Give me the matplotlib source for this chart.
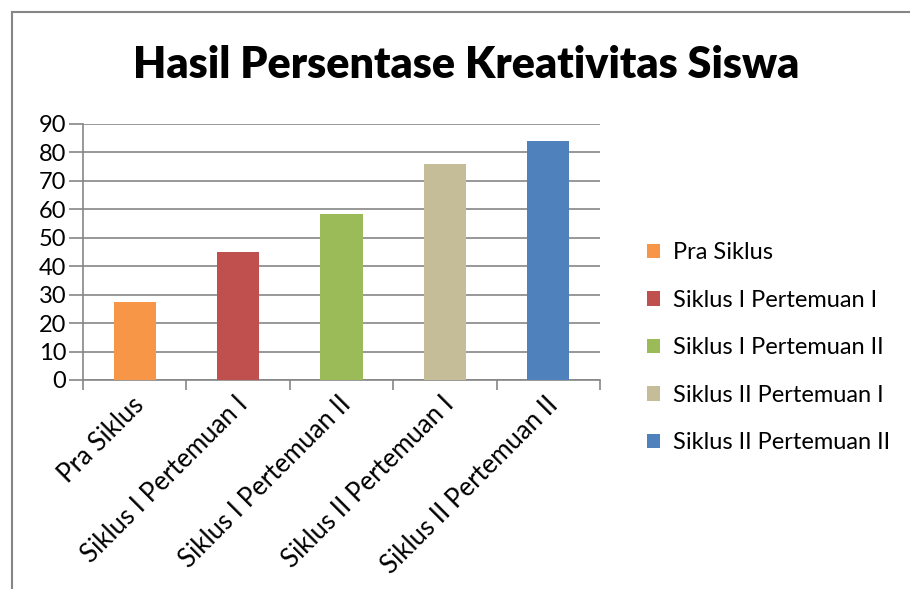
import matplotlib.pyplot as plt
from matplotlib.lines import Line2D

kategori = ['Pra Siklus', 'Siklus I Pertemuan I', 'Siklus I Pertemuan II',
            'Siklus II Pertemuan I', 'Siklus II Pertemuan II']
nilai = [27.5, 45, 58.5, 76, 84]
warna = ['#F79646', '#C0504D', '#9BBB59', '#C4BD97', '#4F81BD']
yticks = [0, 10, 20, 30, 40, 50, 60, 70, 80, 90]

plt.rcParams['font.family'] = ['Lato', 'DejaVu Sans']

fig = plt.figure(figsize=(9.10, 5.89), dpi=100)
ax = fig.add_axes([83 / 910, 1 - 380 / 589, 517 / 910, 256 / 589])

pos = list(range(len(kategori)))
bars = ax.bar(pos, nilai, width=0.41, color=warna, zorder=3)

ax.set_xlim(-0.5, len(kategori) - 0.5)
ax.set_ylim(0, 90)
ax.set_yticks(yticks)
ax.set_yticklabels([str(v) for v in yticks], fontsize=17)
ax.yaxis.grid(True, color='#868686', linewidth=1.2, zorder=0)
ax.tick_params(axis='y', length=10, color='#868686', width=1.2, pad=2)

# tick di batas kategori, label di tengah
ax.set_xticks([p - 0.5 for p in pos] + [len(kategori) - 0.5])
ax.set_xticklabels([])
ax.tick_params(axis='x', length=7, color='#868686', width=1.2, direction='out')
for p, lab in zip(pos, kategori):
    ax.annotate(lab, xy=(p, 0), xycoords=('data', 'axes fraction'),
                xytext=(4, -15), textcoords='offset points',
                rotation=45, ha='right', va='center', rotation_mode='anchor',
                fontsize=18.5)

for s in ['top', 'right']:
    ax.spines[s].set_visible(False)
for s in ['left', 'bottom']:
    ax.spines[s].set_color('#868686')
    ax.spines[s].set_linewidth(1.2)

fig.text(466 / 910, 1 - 65 / 589, 'Hasil Persentase Kreativitas Siswa',
         ha='center', va='center', fontsize=31, fontweight='heavy')

leg = fig.legend(bars, kategori, loc='upper left',
                 bbox_to_anchor=(638 / 910, 1 - 233 / 589),
                 frameon=False, fontsize=17, handlelength=0.55, handleheight=0.55,
                 handletextpad=0.55, labelspacing=1.12, borderaxespad=0)

# bingkai grafik
fig.add_artist(Line2D([12 / 910, 12 / 910], [0, 1 - 12 / 589], color='#868686', lw=1.5))
fig.add_artist(Line2D([12 / 910, 1], [1 - 12 / 589, 1 - 12 / 589], color='#868686', lw=1.5))

fig.savefig('out.png', dpi=100)
